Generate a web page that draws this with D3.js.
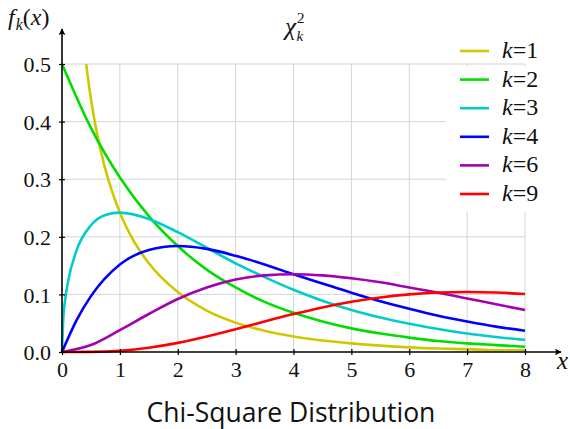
<!DOCTYPE html>
<html>
<head>
<meta charset="utf-8">
<script src="https://cdn.jsdelivr.net/npm/d3@7"></script>
<style>
body{margin:0;background:#fff;}
svg{display:block;}
</style>
</head>
<body>
<svg></svg>
<script>
// degrees of freedom shown
var ks = [1, 2, 3, 4, 6, 9];
var colors = ["#cfc800", "#00dd00", "#00cccc", "#0000ff", "#a400b0", "#ff0000"];

// curve values
var x1 = [0.3, 0.4, 0.5, 0.6, 0.75, 1, 1.25, 1.5, 2, 2.5, 3, 3.5, 4, 4.5, 5, 5.5, 6, 6.5, 7, 7.5, 8];
var y1 = [0.627, 0.516, 0.439, 0.382, 0.317, 0.242, 0.191, 0.154, 0.104, 0.072, 0.051, 0.037, 0.027, 0.020, 0.015, 0.011, 0.008, 0.006, 0.005, 0.003, 0.003];

var xHalf = [0, 0.5, 1, 1.5, 2, 2.5, 3, 3.5, 4, 4.5, 5, 5.5, 6, 6.5, 7, 7.5, 8];
var y2 = [0.5, 0.389, 0.303, 0.236, 0.184, 0.143, 0.112, 0.087, 0.068, 0.053, 0.041, 0.032, 0.025, 0.019, 0.015, 0.012, 0.009];

var x3 = [0, 0.02, 0.05, 0.1, 0.25, 0.5, 0.75, 1, 1.5, 2, 2.5, 3, 3.5, 4, 4.5, 5, 5.5, 6, 6.5, 7, 7.5, 8];
var y3 = [0, 0.056, 0.087, 0.120, 0.176, 0.220, 0.238, 0.242, 0.231, 0.208, 0.181, 0.154, 0.130, 0.108, 0.089, 0.073, 0.060, 0.049, 0.040, 0.032, 0.026, 0.021];

var x4 = [0, 0.25, 0.5, 1, 1.5, 2, 2.5, 3, 3.5, 4, 4.5, 5, 5.5, 6, 6.5, 7, 7.5, 8];
var y4 = [0, 0.055, 0.097, 0.152, 0.177, 0.184, 0.179, 0.167, 0.152, 0.135, 0.119, 0.103, 0.088, 0.075, 0.063, 0.053, 0.044, 0.037];

var y6 = [0, 0.012, 0.038, 0.066, 0.092, 0.112, 0.126, 0.133, 0.135, 0.133, 0.128, 0.121, 0.112, 0.103, 0.093, 0.083, 0.073];
var y9 = [0, 0.0003, 0.0023, 0.0074, 0.0158, 0.0269, 0.0396, 0.0530, 0.0658, 0.0774, 0.0872, 0.0947, 0.1001, 0.1032, 0.1041, 0.1032, 0.1007];

var xTicks = [0, 1, 2, 3, 4, 5, 6, 7, 8];
var yTicks = [0, 0.1, 0.2, 0.3, 0.4, 0.5];

var series = [
  {k: 1, xs: x1, ys: y1},
  {k: 2, xs: xHalf, ys: y2},
  {k: 3, xs: x3, ys: y3},
  {k: 4, xs: x4, ys: y4},
  {k: 6, xs: xHalf, ys: y6},
  {k: 9, xs: xHalf, ys: y9}
];

var screen = {width: 570, height: 429};
var serif = "Liberation Serif";

var svg = d3.select('svg')
  .attr('width', screen.width)
  .attr('height', screen.height);

var xScale = d3.scaleLinear().domain([0, 8]).range([62, 525]);
var yScale = d3.scaleLinear().domain([0, 0.5]).range([352, 64]);

// grid
var grid = svg.append('g').attr('stroke', '#d4d4d4').attr('stroke-width', 1);
grid.selectAll('line.v')
  .data(xTicks.slice(1))
  .enter().append('line')
  .attr('x1', function(d){return xScale(d);})
  .attr('x2', function(d){return xScale(d);})
  .attr('y1', yScale(0)).attr('y2', yScale(0.5));
grid.selectAll('line.h')
  .data(yTicks.slice(1))
  .enter().append('line')
  .attr('y1', function(d){return yScale(d);})
  .attr('y2', function(d){return yScale(d);})
  .attr('x1', xScale(0)).attr('x2', xScale(8));

// curves
svg.append('clipPath').attr('id', 'plotclip')
  .append('rect')
  .attr('x', xScale(0) - 2).attr('y', yScale(0.5))
  .attr('width', xScale(8) - xScale(0) + 4)
  .attr('height', yScale(0) - yScale(0.5) + 2);

var line = d3.line()
  .x(function(d){return xScale(d[0]);})
  .y(function(d){return yScale(d[1]);})
  .curve(d3.curveMonotoneX);

var curves = svg.append('g').attr('clip-path', 'url(#plotclip)');
series.forEach(function(s, i){
  var pts = s.xs.map(function(x, j){return [x, s.ys[j]];});
  curves.append('path')
    .datum(pts)
    .attr('d', line)
    .attr('fill', 'none')
    .attr('stroke', colors[i])
    .attr('stroke-width', 2.6)
    .attr('stroke-linejoin', 'round');
});

// axes
var xAxis = d3.axisBottom(xScale).tickValues(xTicks).tickFormat(d3.format('d')).tickSize(3).tickPadding(6);
var gx = svg.append('g').attr('transform', 'translate(0,' + yScale(0) + ')').call(xAxis);
var yAxis = d3.axisLeft(yScale).tickValues(yTicks).tickFormat(d3.format('.1f')).tickSize(3).tickPadding(8);
var gy = svg.append('g').attr('transform', 'translate(' + xScale(0) + ',0)').call(yAxis);

[gx, gy].forEach(function(g){
  g.select('.domain').remove();
  g.attr('font-family', serif).attr('font-size', 22);
  g.selectAll('.tick line').attr('stroke', '#000').attr('stroke-width', 1.2);
  g.selectAll('.tick text').attr('fill', '#111');
});
gx.selectAll('.tick line').attr('y1', -3);
gy.selectAll('.tick line').attr('x1', 3);
gy.selectAll('.tick text').attr('dy', '0.35em');

svg.append('defs').append('marker')
  .attr('id', 'arrow')
  .attr('viewBox', '0 0 10 10')
  .attr('refX', 9).attr('refY', 5)
  .attr('markerWidth', 7).attr('markerHeight', 7)
  .attr('markerUnits', 'userSpaceOnUse')
  .attr('orient', 'auto')
  .append('path')
  .attr('d', 'M0,0 Q4,5 0,10 L10,5 Z')
  .attr('fill', '#000');

svg.append('line')
  .attr('x1', xScale(0) - 1).attr('x2', 561)
  .attr('y1', yScale(0)).attr('y2', yScale(0))
  .attr('stroke', '#000').attr('stroke-width', 1.6)
  .attr('marker-end', 'url(#arrow)');
svg.append('line')
  .attr('x1', xScale(0)).attr('x2', xScale(0))
  .attr('y1', yScale(0) + 1).attr('y2', 29)
  .attr('stroke', '#000').attr('stroke-width', 1.6)
  .attr('marker-end', 'url(#arrow)');

// axis labels
svg.append('text')
  .attr('x', 557).attr('y', 369)
  .attr('font-family', serif).attr('font-style', 'italic').attr('font-size', 25)
  .attr('fill', '#111')
  .text('x');

var fl = svg.append('text')
  .attr('x', 8).attr('y', 25)
  .attr('font-family', serif).attr('font-size', 24).attr('fill', '#111');
fl.append('tspan').attr('font-style', 'italic').text('f');
fl.append('tspan').attr('font-style', 'italic').attr('font-size', 16).attr('dx', 1).attr('dy', 5).text('k');
fl.append('tspan').attr('dy', -5).text('(');
fl.append('tspan').attr('font-style', 'italic').text('x');
fl.append('tspan').text(')');

// title chi^2_k
var tt = svg.append('text')
  .attr('x', 285).attr('y', 35)
  .attr('font-family', serif).attr('font-size', 25).attr('fill', '#111');
tt.append('tspan').attr('font-style', 'italic').text('χ');
tt.append('tspan').attr('font-size', 15).attr('dx', 1).attr('dy', -12).text('2');
tt.append('tspan').attr('font-size', 15).attr('font-style', 'italic').attr('dx', -8).attr('dy', 18).text('k');

// legend
svg.append('rect')
  .attr('x', 446).attr('y', 66)
  .attr('width', 124).attr('height', 146)
  .attr('fill', '#fff');
var legend = svg.append('g');
ks.forEach(function(k, i){
  var ly = 51 + i * 28.6;
  legend.append('line')
    .attr('x1', 460).attr('x2', 489)
    .attr('y1', ly).attr('y2', ly)
    .attr('stroke', colors[i]).attr('stroke-width', 2.6);
  var t = legend.append('text')
    .attr('x', 502).attr('y', ly + 7)
    .attr('font-family', serif).attr('font-size', 24).attr('fill', '#111');
  t.append('tspan').attr('font-style', 'italic').text('k');
  t.append('tspan').text('=' + k);
});

// caption
svg.append('text')
  .attr('x', 291).attr('y', 422)
  .attr('text-anchor', 'middle')
  .attr('font-family', 'Open Sans')
  .attr('font-size', 26.5)
  .attr('fill', '#111')
  .text('Chi-Square Distribution');
</script>
</body>
</html>
